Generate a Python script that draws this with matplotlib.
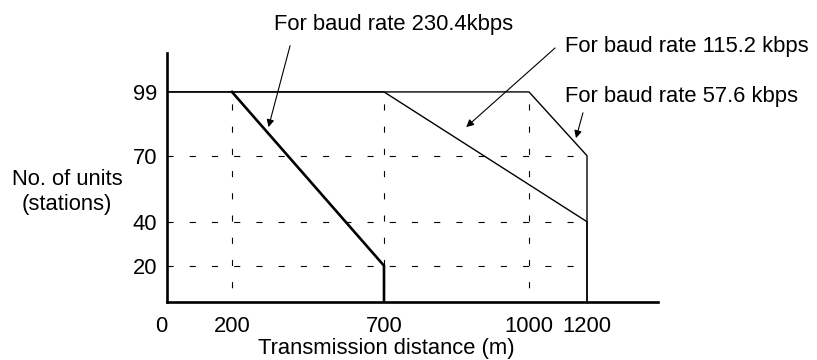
import numpy as np
import matplotlib
matplotlib.use("Agg")
import matplotlib.pyplot as plt
from matplotlib.transforms import ScaledTranslation

plt.rcParams["font.family"] = ["Liberation Sans", "DejaVu Sans"]

# Allowed number of units vs. transmission distance, per baud rate
dist_57k = [0, 1000, 1200, 1200]
units_57k = [99, 99, 70, 0]
dist_115k = [0, 700, 1200, 1200]
units_115k = [99, 99, 40, 0]
dist_230k = [200, 700, 700]
units_230k = [99, 20, 0]

x_ticks = [0, 200, 700, 1000, 1200]
y_ticks = [20, 40, 70, 99]
grid_units = [70, 40, 20]
grid_dist = [200, 700, 1000]

# the drawing is schematic: distances are not to scale, so map them
# through a piecewise-linear axis scale
scale_dist = [0, 200, 700, 1000, 1200, 1400]
scale_pos = [0, 65, 217, 362, 420, 491]


def fwd(x):
    return np.interp(x, scale_dist, scale_pos)


def inv(p):
    return np.interp(p, scale_pos, scale_dist)


FS = 15.8

fig = plt.figure(figsize=(8.17, 3.6), dpi=100)
ax = fig.add_axes([0.2044, 0.1611, 0.601, 0.6917])
ax.set_xscale("function", functions=(fwd, inv))
ax.set_xlim(0, 1400)
ax.set_ylim(3.5, 116.7)

dash = (0, (5.5, 14.5))
ax.hlines(grid_units, 0, 1200, colors="black", lw=0.8, linestyles=[dash])
ax.vlines(grid_dist, 0, 99, colors="black", lw=0.8, linestyles=[dash])

ax.plot(dist_57k, units_57k, color="black", lw=1.0)
ax.plot(dist_115k, units_115k, color="black", lw=1.0)
ax.plot(dist_230k, units_230k, color="black", lw=1.9)

for side in ["top", "right"]:
    ax.spines[side].set_visible(False)
for side in ["left", "bottom"]:
    ax.spines[side].set_linewidth(1.9)

ax.set_xticks(x_ticks)
ax.set_xticklabels([str(v) for v in x_ticks])
ax.set_yticks(y_ticks)
ax.set_yticklabels([str(v) for v in y_ticks])
ax.xaxis.set_minor_locator(matplotlib.ticker.NullLocator())
ax.tick_params(axis="x", length=0, pad=10, labelsize=FS)
ax.tick_params(axis="y", length=0, pad=7, labelsize=FS)

# the "0" sits a little left of the corner in the original
zero_lbl = ax.get_xticklabels()[0]
zero_lbl.set_transform(zero_lbl.get_transform()
                       + ScaledTranslation(-0.06, 0, fig.dpi_scale_trans))

ax.set_xlabel("Transmission distance (m)", fontsize=FS, va="center")
ax.xaxis.set_label_coords(0.447, -0.185)
ax.set_ylabel("No. of units\n(stations)", fontsize=FS, rotation=0,
              ha="center", va="center", linespacing=1.25)
ax.yaxis.set_label_coords(-0.204, 0.44)

arrow = dict(arrowstyle="-|>", lw=0.8, color="black", mutation_scale=11,
             shrinkA=0, shrinkB=0)
notes = [
    ("For baud rate 230.4kbps", (338, 129.5), (391, 120), (320, 83)),
    ("For baud rate 115.2 kbps", (1124, 119.5), (1090, 119), (870, 83)),
    ("For baud rate 57.6 kbps", (1124, 96.7), (1186, 89.5), (1162, 78)),
]
for label, txt_xy, tail, tip in notes:
    ax.text(txt_xy[0], txt_xy[1], label, fontsize=FS, ha="left",
            va="center", clip_on=False)
    ax.annotate("", xy=tip, xytext=tail, arrowprops=arrow,
                annotation_clip=False)

fig.savefig("out.png", dpi=100)
